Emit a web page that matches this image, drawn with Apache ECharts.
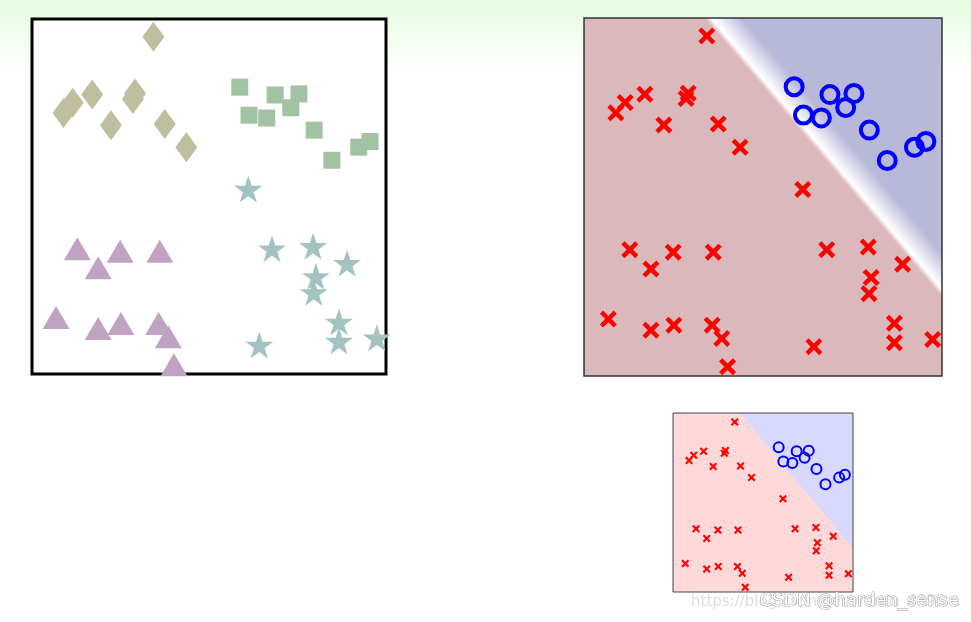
<!DOCTYPE html>
<html>
<head>
<meta charset="utf-8">
<script src="https://cdn.jsdelivr.net/npm/echarts@6.0.0/dist/echarts.min.js"></script>
<style>
html, body {
    margin: 0;
    padding: 0;
    width: 971px;
    height: 622px;
    overflow: hidden;
    background: linear-gradient(to bottom, #e5fcdf 0px, #f1fded 35px, #ffffff 70px);
}
#main {
    width: 971px;
    height: 622px;
}
</style>
</head>
<body>
<div id="main"></div>
<script>
// the same 2-D points, split in four classes (x, y on a 0..10 scale)
const diamondPts = [[3.43, 9.50], [1.15, 7.64], [0.89, 7.35], [1.70, 7.87], [2.91, 7.90],
    [2.85, 7.75], [2.23, 7.01], [3.75, 7.04], [4.36, 6.39]];
const squarePts = [[5.87, 8.08], [6.87, 7.86], [7.54, 7.89], [6.13, 7.29], [6.63, 7.21],
    [7.31, 7.50], [7.97, 6.87], [8.47, 6.02], [9.23, 6.39], [9.55, 6.55]];
const starPts = [[6.11, 5.21], [6.78, 3.53], [7.94, 3.60], [8.90, 3.12], [8.02, 2.75],
    [7.96, 2.30], [6.42, 0.82], [8.67, 1.47], [8.67, 0.93], [9.74, 1.02]];
const trianglePts = [[1.28, 3.53], [1.87, 2.99], [2.49, 3.46], [3.61, 3.46], [0.68, 1.59],
    [1.87, 1.28], [2.51, 1.42], [3.58, 1.42], [3.85, 1.05], [4.01, 0.26]];

// decision boundary: [x0, y0, x1, y1]
const boundaryBig = [3.55, 10, 10, 2.42];
const boundarySmall = [3.72, 10, 10, 2.44];

// binary problem: squares are the positive class, the rest negative
const redPts = diamondPts.concat(starPts, trianglePts);
const bluePts = squarePts;

const crossPath = 'path://M0,3L3,0L8,5L13,0L16,3L11,8L16,13L13,16L8,11L3,16L0,13L5,8Z';
const starPath = 'path://M50,0L61.23,34.55L97.55,34.55L68.17,55.9L79.39,90.45L50,69.1L20.61,90.45L31.83,55.9L2.45,34.55L38.77,34.55Z';

const surface = (red, blue, fadeRed, fadeBlue) => (params, api) => {
    const p0 = api.coord([api.value(0), api.value(1)]);
    const p1 = api.coord([api.value(2), api.value(3)]);
    const cs = params.coordSys;
    const dx = p1[0] - p0[0], dy = p1[1] - p0[1];
    const len = Math.hypot(dx, dy);
    const nx = dy / len, ny = -dx / len;
    const mx = (p0[0] + p1[0]) / 2, my = (p0[1] + p1[1]) / 2;
    const D = 500;
    const stops = [
        { offset: 0, color: red },
        { offset: (D - fadeRed) / (2 * D), color: red }
    ];
    if (fadeRed || fadeBlue) stops.push({ offset: 0.5, color: '#ffffff' });
    stops.push({ offset: (D + fadeBlue) / (2 * D), color: blue }, { offset: 1, color: blue });
    return {
        type: 'rect',
        shape: { x: cs.x, y: cs.y, width: cs.width, height: cs.height },
        style: {
            fill: new echarts.graphic.LinearGradient(
                mx - nx * D, my - ny * D, mx + nx * D, my + ny * D, stops, true)
        }
    };
};

const axis = (i) => ({ gridIndex: i, type: 'value', min: 0, max: 10, show: false });

let option = {
    animation: false,
    grid: [
        { left: 32, top: 19, width: 354, height: 355, show: true, backgroundColor: '#ffffff',
          borderColor: '#000000', borderWidth: 3 },
        { left: 584, top: 18, width: 358, height: 358, show: true, backgroundColor: 'transparent',
          borderColor: '#333333', borderWidth: 1.5, z: 3 },
        { left: 673, top: 413, width: 180, height: 179, show: true, backgroundColor: 'transparent',
          borderColor: '#444444', borderWidth: 1, z: 3 }
    ],
    xAxis: [axis(0), axis(1), axis(2)],
    yAxis: [axis(0), axis(1), axis(2)],
    series: [
        {
            type: 'scatter', xAxisIndex: 0, yAxisIndex: 0,
            symbol: 'diamond', symbolSize: [22, 30],
            itemStyle: { color: '#bfbf9f', opacity: 1 },
            data: diamondPts
        },
        {
            type: 'scatter', xAxisIndex: 0, yAxisIndex: 0,
            symbol: 'rect', symbolSize: 17,
            itemStyle: { color: '#a3c2a3', opacity: 1 },
            data: squarePts
        },
        {
            type: 'scatter', xAxisIndex: 0, yAxisIndex: 0,
            symbol: starPath, symbolSize: [28, 27],
            itemStyle: { color: '#a3c2c2', opacity: 1 },
            data: starPts
        },
        {
            type: 'scatter', xAxisIndex: 0, yAxisIndex: 0,
            symbol: 'triangle', symbolSize: [27, 23],
            itemStyle: { color: '#c0a3c2', opacity: 1 },
            data: trianglePts
        },
        {
            type: 'custom', xAxisIndex: 1, yAxisIndex: 1, z: 1, silent: true,
            renderItem: surface('#dbb8bb', '#b8b8d9', 5, 24),
            encode: { x: [0, 2], y: [1, 3] },
            data: [boundaryBig]
        },
        {
            type: 'scatter', xAxisIndex: 1, yAxisIndex: 1,
            symbol: crossPath, symbolSize: 17,
            itemStyle: { color: '#ff0000', opacity: 1 },
            data: redPts
        },
        {
            type: 'scatter', xAxisIndex: 1, yAxisIndex: 1,
            symbol: 'circle', symbolSize: 17,
            itemStyle: { color: 'transparent', borderColor: '#0000ff', borderWidth: 4, opacity: 1 },
            data: bluePts
        },
        {
            type: 'custom', xAxisIndex: 2, yAxisIndex: 2, z: 1, silent: true,
            renderItem: surface('#ffd9d9', '#d9d9ff', 0, 0),
            encode: { x: [0, 2], y: [1, 3] },
            data: [boundarySmall]
        },
        {
            type: 'scatter', xAxisIndex: 2, yAxisIndex: 2,
            symbol: crossPath, symbolSize: 8,
            itemStyle: { color: '#ff0000', opacity: 1 },
            data: redPts
        },
        {
            type: 'scatter', xAxisIndex: 2, yAxisIndex: 2,
            symbol: 'circle', symbolSize: 10,
            itemStyle: { color: 'transparent', borderColor: '#0000ff', borderWidth: 2, opacity: 1 },
            data: bluePts
        }
    ],
    graphic: [
        {
            type: 'text', left: 691, top: 595, z: 10,
            style: { text: 'https://blog.csdn.net/weixin_4395', fill: '#dddddd',
                     font: '15px "DejaVu Sans"' }
        },
        {
            type: 'text', left: 759, top: 592, z: 11,
            style: { text: 'CSDN @harden_sense', fill: '#ffffff', stroke: '#9a9a9a', lineWidth: 1,
                     font: '18px "DejaVu Sans"' }
        }
    ]
};

const myChart = echarts.init(document.getElementById('main'));
option && myChart.setOption(option);
</script>
</body>
</html>
